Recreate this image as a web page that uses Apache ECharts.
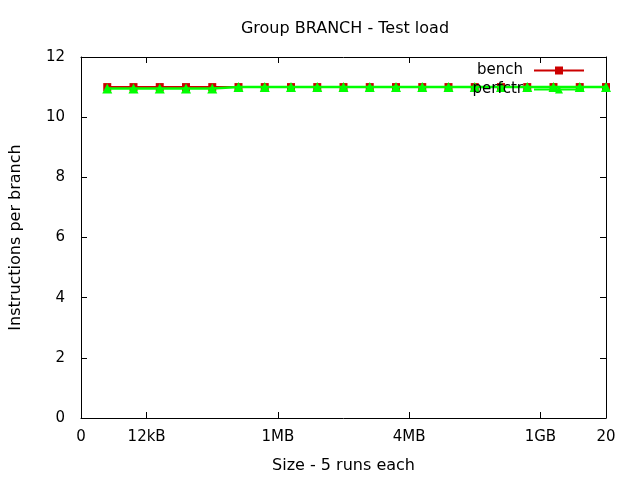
<!DOCTYPE html>
<html>
<head>
<meta charset="utf-8">
<script src="https://cdn.jsdelivr.net/npm/echarts@6/dist/echarts.min.js"></script>
<style>html,body{margin:0;padding:0;background:#fff}#c{width:640px;height:480px}</style>
</head>
<body>
<div id="c"></div>
<script>
var xValues = [1,2,3,4,5,6,7,8,9,10,11,12,13,14,15,16,17,18,19,20];
var benchValues = [11,11,11,11,11,11,11,11,11,11,11,11,11,11,11,11,11,11,11,11];
var perfctrValues = [10.95,10.95,10.95,10.95,10.95,11,11,11,11,11,11,11,11,11,11,11,11,11,11,11];
var xTickValues = [0,2.5,7.5,12.5,17.5,20];
var xTickLabels = ['0','12kB','1MB','4MB','1GB','20'];

var font = 'DejaVu Sans';
var chart = echarts.init(document.getElementById('c'));
function pairs(v){ return xValues.map(function(x,i){return [x,v[i]];}); }
var axLine = {show:true, onZero:false, lineStyle:{color:'#000', width:1}};
var tick = {show:true, inside:true, length:6, lineStyle:{color:'#000'}};
chart.setOption({
  animation:false,
  backgroundColor:'#fff',
  title:{text:'Group BRANCH - Test load', left:340, top:16, textAlign:'center',
    textStyle:{fontFamily:font, fontSize:16, fontWeight:'normal', color:'#000'}},
  grid:{left:79, right:34, top:57, bottom:62},
  legend:{orient:'vertical', right:50, top:58, align:'right', itemWidth:50, itemHeight:10, itemGap:4,
    textStyle:{fontFamily:font, fontSize:15, color:'#000', padding:[0,6,0,0]},
    data:['bench','perfctr']},
  xAxis:[{type:'value', min:0, max:20, position:'bottom',
    name:'Size - 5 runs each', nameLocation:'middle', nameGap:40,
    nameTextStyle:{fontFamily:font, fontSize:16, color:'#000'},
    axisLine:axLine, splitLine:{show:false},
    axisTick:Object.assign({customValues:xTickValues}, tick),
    axisLabel:{show:true, customValues:xTickValues, margin:12, fontFamily:font, fontSize:15, color:'#000',
      formatter:function(v){var i=xTickValues.indexOf(v);return i>=0?xTickLabels[i]:'';}}},
    {type:'value', min:0, max:20, position:'top',
    axisLine:axLine, splitLine:{show:false},
    axisTick:Object.assign({customValues:xTickValues}, tick),
    axisLabel:{show:false}}],
  yAxis:[{type:'value', min:0, max:12, interval:2, position:'left',
    name:'Instructions per branch', nameLocation:'middle', nameGap:57,
    nameTextStyle:{fontFamily:font, fontSize:16, color:'#000'},
    axisLine:axLine, splitLine:{show:false},
    axisTick:tick,
    axisLabel:{margin:16, fontFamily:font, fontSize:15, color:'#000'}},
    {type:'value', min:0, max:12, interval:2, position:'right',
    axisLine:axLine, splitLine:{show:false},
    axisTick:tick,
    axisLabel:{show:false}}],
  series:[
    {name:'bench', type:'line', data:pairs(benchValues), symbol:'rect', symbolSize:8,
      lineStyle:{color:'#cc0000', width:2}, itemStyle:{color:'#cc0000'}, z:2},
    {name:'perfctr', type:'line', data:pairs(perfctrValues), symbol:'triangle', symbolSize:10,
      lineStyle:{color:'#00ff00', width:2.5}, itemStyle:{color:'#00ff00'}, z:3}
  ]
});
</script>
</body>
</html>
